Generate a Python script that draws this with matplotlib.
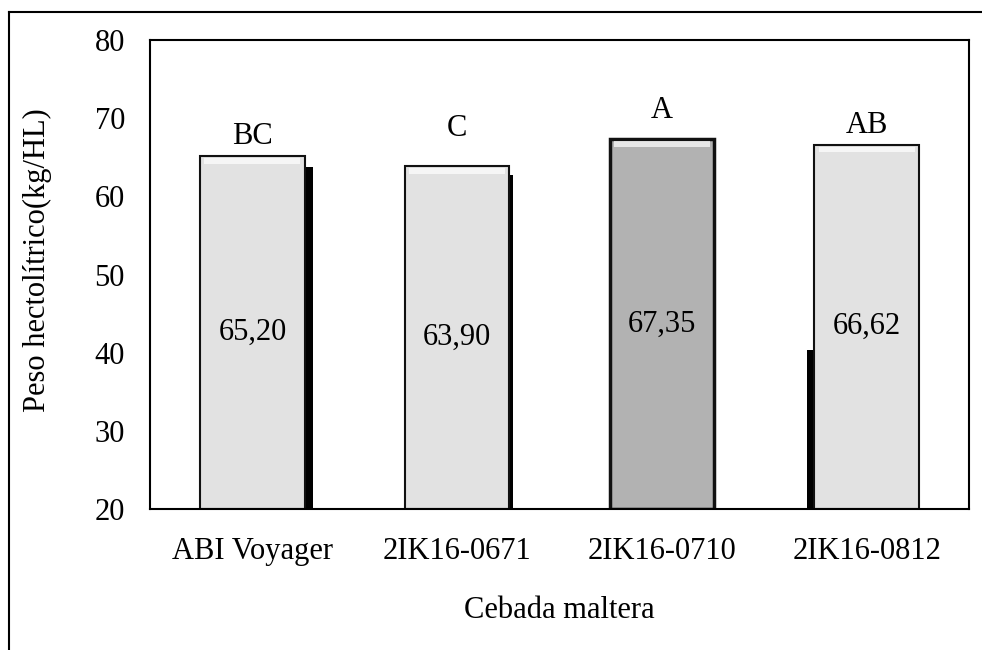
import matplotlib.pyplot as plt
from matplotlib.lines import Line2D

plt.rcParams['font.family'] = ['Liberation Serif', 'DejaVu Serif']

cultivares = ['ABI Voyager', '2IK16-0671', '2IK16-0710', '2IK16-0812']
peso = [65.20, 63.90, 67.35, 66.62]
etiquetas = ['65,20', '63,90', '67,35', '66,62']
letras = ['BC', 'C', 'A', 'AB']
letras_y = [67.6, 68.7, 71.0, 69.1]

colores = ['#e2e2e2', '#e2e2e2', '#b2b2b2', '#e2e2e2']
# shadow offsets (x in category units, drop of top in data units)
sombra_dx = [0.04, 0.02, 0.0, -0.035]
sombra_dy = [1.4, 1.2, 0.0, 26.3]

fig = plt.figure(figsize=(9.82, 6.5), dpi=100)
ax = fig.add_axes([150 / 982, 1 - 509 / 650, 819 / 982, 469 / 650])

x = list(range(len(cultivares)))
w = 0.51

for i in x:
    if sombra_dy[i] > 0 or sombra_dx[i] != 0:
        ax.bar(i + sombra_dx[i], peso[i] - sombra_dy[i] - 20, bottom=20, width=w,
               color='black', zorder=1)

lw = [1.5, 1.5, 2.5, 1.5]
ax.bar(x, [p - 20 for p in peso], bottom=20, width=w, color=colores,
       edgecolor=['#111111'] * 4, linewidth=lw, zorder=2)

# bevel highlight near the top of each bar
for i in x:
    ax.bar(i, 0.7, bottom=peso[i] - 1.0, width=w * 0.92, color='white',
           alpha=0.7, linewidth=0, zorder=3)

for i in x:
    ax.text(i, (peso[i] + 20) / 2, etiquetas[i], ha='center', va='center',
            fontsize=22, zorder=4)
    ax.text(i, letras_y[i], letras[i], ha='center', va='center', fontsize=22)

ax.set_xlim(-0.5, 3.5)
ax.set_ylim(20, 80)
ax.set_yticks(range(20, 81, 10))
ax.set_xticks(x)
ax.set_xticklabels(cultivares)
ax.tick_params(axis='both', length=0, labelsize=22)
ax.tick_params(axis='x', pad=20)
ax.tick_params(axis='y', pad=18)
for s in ax.spines.values():
    s.set_linewidth(1.5)

ax.set_ylabel('Peso hectolítrico(kg/HL)', fontsize=22)
ax.yaxis.set_label_coords(-0.12, 0.53)
ax.set_xlabel('Cebada maltera', fontsize=22, labelpad=22)

# outer chart frame (only top and left visible)
fig.add_artist(Line2D([9 / 982, 9 / 982], [0, 1 - 12 / 650], color='black', lw=1.5,
                      transform=fig.transFigure))
fig.add_artist(Line2D([9 / 982, 1], [1 - 12 / 650, 1 - 12 / 650], color='black', lw=1.5,
                      transform=fig.transFigure))

fig.savefig('out.png', dpi=100)
